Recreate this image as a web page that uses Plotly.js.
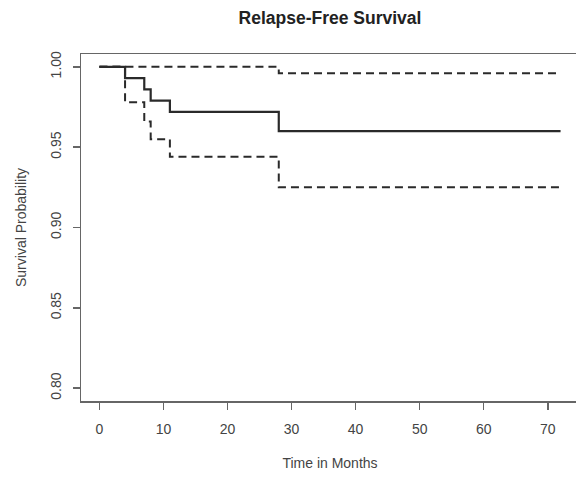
<!DOCTYPE html>
<html>
<head>
<meta charset="utf-8">
<script src="https://cdn.plot.ly/plotly-3.0.1.min.js"></script>
<style>
html,body{margin:0;padding:0;background:#fff;overflow:hidden;width:576px;height:477px;}
#chart{width:580px;height:477px;}
</style>
</head>
<body>
<div id="chart"></div>
<script>
// Kaplan-Meier estimate with confidence band
const timeMonths = [0, 4, 7, 8, 11, 28, 72];
const survival   = [1.000, 0.993, 0.986, 0.979, 0.972, 0.960, 0.960];
const upperCI    = [1.000, 1.000, 1.000, 1.000, 1.000, 0.996, 0.996];
const lowerCI    = [1.000, 0.978, 0.966, 0.955, 0.944, 0.925, 0.925];
const xTicks = [0, 10, 20, 30, 40, 50, 60, 70];
const yTicks = [0.80, 0.85, 0.90, 0.95, 1.00];
const yTickText = ["0.80", "0.85", "0.90", "0.95", "1.00"];

const lineColor = "#2a2a2a";
const dashStyle = "8px,5px";

const traces = [
  {x: timeMonths, y: upperCI, mode: "lines", line: {shape: "hv", color: lineColor, width: 2, dash: dashStyle}, hoverinfo: "skip"},
  {x: timeMonths, y: lowerCI, mode: "lines", line: {shape: "hv", color: lineColor, width: 2, dash: dashStyle}, hoverinfo: "skip"},
  {x: timeMonths, y: survival, mode: "lines", line: {shape: "hv", color: lineColor, width: 2.2}, hoverinfo: "skip"}
];

const fam = "Liberation Sans, Arial, sans-serif";
const font = {family: fam, size: 14, color: "#444"};

const layout = {
  width: 580, height: 477,
  margin: {l: 81, r: 1, t: 54, b: 76},
  paper_bgcolor: "#fff", plot_bgcolor: "#fff",
  showlegend: false,
  font: font,
  title: {text: "Relapse-Free Survival", font: {family: fam, size: 17.5, color: "#222", weight: "bold"}, x: 0.5, xref: "paper", y: 0.962, yref: "container", yanchor: "middle"},
  xaxis: {
    range: [-2.88, 74.88], tickvals: xTicks, ticktext: xTicks.map(String),
    showgrid: false, zeroline: false, showline: true, mirror: true,
    linecolor: "#666", linewidth: 1.5,
    ticks: "outside", ticklen: 7, tickcolor: "#666", tickwidth: 1.5,
    ticklabelstandoff: 8,
    tickfont: font,
    title: {text: "Time in Months", font: {family: fam, size: 14, color: "#444"}, standoff: 22}
  },
  yaxis: {
    range: [0.792, 1.008], tickvals: yTicks, ticktext: yTickText, tickangle: -90,
    showgrid: false, zeroline: false, showline: true, mirror: true,
    linecolor: "#666", linewidth: 1.5,
    ticks: "outside", ticklen: 7, tickcolor: "#666", tickwidth: 1.5,
    ticklabelstandoff: 6,
    tickfont: font,
    title: {text: "Survival Probability", font: {family: fam, size: 14, color: "#444"}, standoff: 18}
  }
};

Plotly.newPlot("chart", traces, layout, {staticPlot: true, displayModeBar: false});
</script>
</body>
</html>
